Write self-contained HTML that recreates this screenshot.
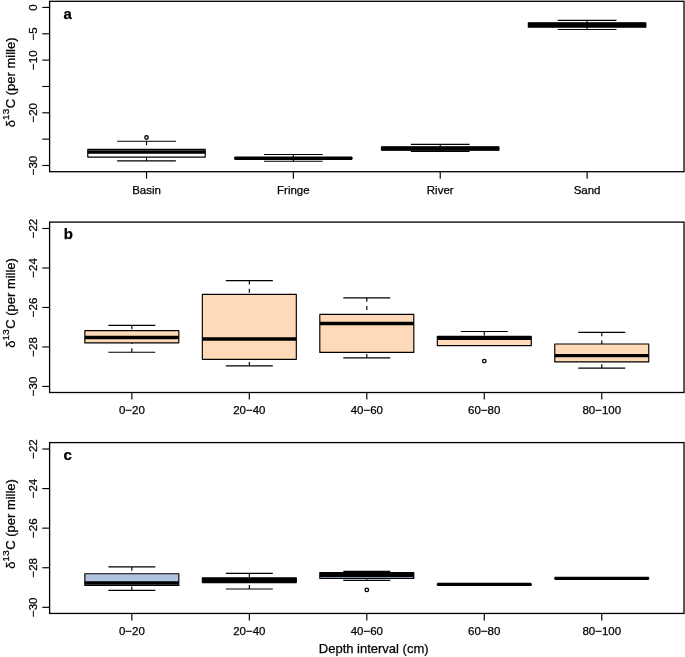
<!DOCTYPE html>
<html><head><meta charset="utf-8">
<style>
html,body{margin:0;padding:0;background:#fff;}
body{width:685px;height:657px;overflow:hidden;}
svg{display:block;}
.tx{filter:grayscale(1);}
text{font-family:"Liberation Sans",sans-serif;fill:#000;stroke:#000;stroke-width:0.25px;}
.t{font-size:11.5px;}
.yl{font-size:13px;}
.xl{font-size:13px;}
.pl{font-size:15px;font-weight:bold;}
</style></head><body>
<svg width="685" height="657" viewBox="0 0 685 657">
<rect x="0" y="0" width="685" height="657" fill="#fff"/>
<rect x="49.6" y="1.3" width="634.4" height="170.39999999999998" fill="none" stroke="#000" stroke-width="1.3"/>
<line x1="42.30" y1="7.45" x2="49.60" y2="7.45" stroke="#000" stroke-width="1.15" />
<line x1="42.30" y1="33.79" x2="49.60" y2="33.79" stroke="#000" stroke-width="1.15" />
<line x1="42.30" y1="60.13" x2="49.60" y2="60.13" stroke="#000" stroke-width="1.15" />
<line x1="42.30" y1="86.47" x2="49.60" y2="86.47" stroke="#000" stroke-width="1.15" />
<line x1="42.30" y1="112.81" x2="49.60" y2="112.81" stroke="#000" stroke-width="1.15" />
<line x1="42.30" y1="139.15" x2="49.60" y2="139.15" stroke="#000" stroke-width="1.15" />
<line x1="42.30" y1="165.49" x2="49.60" y2="165.49" stroke="#000" stroke-width="1.15" />
<line x1="146.52" y1="171.70" x2="146.52" y2="178.70" stroke="#000" stroke-width="1.15" />
<line x1="293.37" y1="171.70" x2="293.37" y2="178.70" stroke="#000" stroke-width="1.15" />
<line x1="440.23" y1="171.70" x2="440.23" y2="178.70" stroke="#000" stroke-width="1.15" />
<line x1="587.08" y1="171.70" x2="587.08" y2="178.70" stroke="#000" stroke-width="1.15" />
<line x1="146.52" y1="141.20" x2="146.52" y2="149.40" stroke="#000" stroke-width="1.15" stroke-dasharray="3.9 4.3"/>
<line x1="117.15" y1="141.20" x2="175.89" y2="141.20" stroke="#000" stroke-width="1.15" />
<line x1="146.52" y1="160.80" x2="146.52" y2="157.10" stroke="#000" stroke-width="1.15" stroke-dasharray="3.9 4.3"/>
<line x1="117.15" y1="160.80" x2="175.89" y2="160.80" stroke="#000" stroke-width="1.15" />
<rect x="87.78" y="149.40" width="117.48" height="7.70" fill="#fff" stroke="#000" stroke-width="1.15" stroke-linejoin="round"/>
<line x1="87.78" y1="152.05" x2="205.26" y2="152.05" stroke="#000" stroke-width="3.45" />
<circle cx="146.52" cy="137.50" r="1.75" fill="none" stroke="#000" stroke-width="1.3"/>
<line x1="293.37" y1="154.50" x2="293.37" y2="157.80" stroke="#000" stroke-width="1.15" />
<line x1="264.00" y1="154.50" x2="322.74" y2="154.50" stroke="#000" stroke-width="1.15" />
<line x1="293.37" y1="161.20" x2="293.37" y2="158.60" stroke="#000" stroke-width="1.15" />
<line x1="264.00" y1="161.20" x2="322.74" y2="161.20" stroke="#000" stroke-width="1.15" />
<rect x="234.63" y="157.80" width="117.48" height="0.80" fill="#000" stroke="#000" stroke-width="1.15" stroke-linejoin="round"/>
<line x1="234.63" y1="158.20" x2="352.11" y2="158.20" stroke="#000" stroke-width="3.45" />
<line x1="440.23" y1="144.30" x2="440.23" y2="146.90" stroke="#000" stroke-width="1.15" />
<line x1="410.86" y1="144.30" x2="469.60" y2="144.30" stroke="#000" stroke-width="1.15" />
<line x1="440.23" y1="151.30" x2="440.23" y2="150.20" stroke="#000" stroke-width="1.15" />
<line x1="410.86" y1="151.30" x2="469.60" y2="151.30" stroke="#000" stroke-width="1.15" />
<rect x="381.49" y="146.90" width="117.48" height="3.30" fill="#000" stroke="#000" stroke-width="1.15" stroke-linejoin="round"/>
<line x1="381.49" y1="148.55" x2="498.97" y2="148.55" stroke="#000" stroke-width="3.45" />
<line x1="587.08" y1="20.40" x2="587.08" y2="22.75" stroke="#000" stroke-width="1.15" />
<line x1="557.71" y1="20.40" x2="616.45" y2="20.40" stroke="#000" stroke-width="1.15" />
<line x1="587.08" y1="29.50" x2="587.08" y2="27.15" stroke="#000" stroke-width="1.15" />
<line x1="557.71" y1="29.50" x2="616.45" y2="29.50" stroke="#000" stroke-width="1.15" />
<rect x="528.34" y="22.75" width="117.48" height="4.40" fill="#000" stroke="#000" stroke-width="1.15" stroke-linejoin="round"/>
<line x1="528.34" y1="24.95" x2="645.82" y2="24.95" stroke="#000" stroke-width="3.45" />
<rect x="49.6" y="222.1" width="634.4" height="170.4" fill="none" stroke="#000" stroke-width="1.3"/>
<line x1="42.30" y1="228.50" x2="49.60" y2="228.50" stroke="#000" stroke-width="1.15" />
<line x1="42.30" y1="267.98" x2="49.60" y2="267.98" stroke="#000" stroke-width="1.15" />
<line x1="42.30" y1="307.46" x2="49.60" y2="307.46" stroke="#000" stroke-width="1.15" />
<line x1="42.30" y1="346.94" x2="49.60" y2="346.94" stroke="#000" stroke-width="1.15" />
<line x1="42.30" y1="386.42" x2="49.60" y2="386.42" stroke="#000" stroke-width="1.15" />
<line x1="131.84" y1="392.50" x2="131.84" y2="399.50" stroke="#000" stroke-width="1.15" />
<line x1="249.32" y1="392.50" x2="249.32" y2="399.50" stroke="#000" stroke-width="1.15" />
<line x1="366.80" y1="392.50" x2="366.80" y2="399.50" stroke="#000" stroke-width="1.15" />
<line x1="484.28" y1="392.50" x2="484.28" y2="399.50" stroke="#000" stroke-width="1.15" />
<line x1="601.76" y1="392.50" x2="601.76" y2="399.50" stroke="#000" stroke-width="1.15" />
<line x1="131.84" y1="325.35" x2="131.84" y2="330.60" stroke="#000" stroke-width="1.15" stroke-dasharray="3.9 4.3"/>
<line x1="108.34" y1="325.35" x2="155.33" y2="325.35" stroke="#000" stroke-width="1.15" />
<line x1="131.84" y1="352.25" x2="131.84" y2="342.85" stroke="#000" stroke-width="1.15" stroke-dasharray="3.9 4.3"/>
<line x1="108.34" y1="352.25" x2="155.33" y2="352.25" stroke="#000" stroke-width="1.15" />
<rect x="84.84" y="330.60" width="93.99" height="12.25" fill="#FFDAB9" stroke="#000" stroke-width="1.15" stroke-linejoin="round"/>
<line x1="84.84" y1="337.50" x2="178.83" y2="337.50" stroke="#000" stroke-width="3.45" />
<line x1="249.32" y1="280.60" x2="249.32" y2="294.30" stroke="#000" stroke-width="1.15" stroke-dasharray="3.9 4.3"/>
<line x1="225.82" y1="280.60" x2="272.81" y2="280.60" stroke="#000" stroke-width="1.15" />
<line x1="249.32" y1="365.90" x2="249.32" y2="359.30" stroke="#000" stroke-width="1.15" stroke-dasharray="3.9 4.3"/>
<line x1="225.82" y1="365.90" x2="272.81" y2="365.90" stroke="#000" stroke-width="1.15" />
<rect x="202.33" y="294.30" width="93.99" height="65.00" fill="#FFDAB9" stroke="#000" stroke-width="1.15" stroke-linejoin="round"/>
<line x1="202.33" y1="338.90" x2="296.31" y2="338.90" stroke="#000" stroke-width="3.45" />
<line x1="366.80" y1="297.85" x2="366.80" y2="314.30" stroke="#000" stroke-width="1.15" stroke-dasharray="3.9 4.3"/>
<line x1="343.30" y1="297.85" x2="390.30" y2="297.85" stroke="#000" stroke-width="1.15" />
<line x1="366.80" y1="357.90" x2="366.80" y2="352.40" stroke="#000" stroke-width="1.15" stroke-dasharray="3.9 4.3"/>
<line x1="343.30" y1="357.90" x2="390.30" y2="357.90" stroke="#000" stroke-width="1.15" />
<rect x="319.81" y="314.30" width="93.99" height="38.10" fill="#FFDAB9" stroke="#000" stroke-width="1.15" stroke-linejoin="round"/>
<line x1="319.81" y1="323.40" x2="413.79" y2="323.40" stroke="#000" stroke-width="3.45" />
<line x1="484.28" y1="331.50" x2="484.28" y2="336.40" stroke="#000" stroke-width="1.15" stroke-dasharray="3.9 4.3"/>
<line x1="460.79" y1="331.50" x2="507.78" y2="331.50" stroke="#000" stroke-width="1.15" />
<rect x="437.29" y="336.40" width="93.99" height="9.20" fill="#FFDAB9" stroke="#000" stroke-width="1.15" stroke-linejoin="round"/>
<line x1="437.29" y1="338.25" x2="531.27" y2="338.25" stroke="#000" stroke-width="3.7" />
<circle cx="484.28" cy="361.05" r="1.75" fill="none" stroke="#000" stroke-width="1.3"/>
<line x1="601.76" y1="332.30" x2="601.76" y2="344.00" stroke="#000" stroke-width="1.15" stroke-dasharray="3.9 4.3"/>
<line x1="578.27" y1="332.30" x2="625.26" y2="332.30" stroke="#000" stroke-width="1.15" />
<line x1="601.76" y1="368.10" x2="601.76" y2="361.90" stroke="#000" stroke-width="1.15" stroke-dasharray="3.9 4.3"/>
<line x1="578.27" y1="368.10" x2="625.26" y2="368.10" stroke="#000" stroke-width="1.15" />
<rect x="554.77" y="344.00" width="93.99" height="17.90" fill="#FFDAB9" stroke="#000" stroke-width="1.15" stroke-linejoin="round"/>
<line x1="554.77" y1="355.60" x2="648.76" y2="355.60" stroke="#000" stroke-width="3.45" />
<rect x="49.6" y="442.6" width="634.4" height="170.85000000000002" fill="none" stroke="#000" stroke-width="1.3"/>
<line x1="42.30" y1="449.00" x2="49.60" y2="449.00" stroke="#000" stroke-width="1.15" />
<line x1="42.30" y1="488.58" x2="49.60" y2="488.58" stroke="#000" stroke-width="1.15" />
<line x1="42.30" y1="528.16" x2="49.60" y2="528.16" stroke="#000" stroke-width="1.15" />
<line x1="42.30" y1="567.74" x2="49.60" y2="567.74" stroke="#000" stroke-width="1.15" />
<line x1="42.30" y1="607.32" x2="49.60" y2="607.32" stroke="#000" stroke-width="1.15" />
<line x1="131.84" y1="613.45" x2="131.84" y2="620.45" stroke="#000" stroke-width="1.15" />
<line x1="249.32" y1="613.45" x2="249.32" y2="620.45" stroke="#000" stroke-width="1.15" />
<line x1="366.80" y1="613.45" x2="366.80" y2="620.45" stroke="#000" stroke-width="1.15" />
<line x1="484.28" y1="613.45" x2="484.28" y2="620.45" stroke="#000" stroke-width="1.15" />
<line x1="601.76" y1="613.45" x2="601.76" y2="620.45" stroke="#000" stroke-width="1.15" />
<line x1="131.84" y1="566.90" x2="131.84" y2="573.70" stroke="#000" stroke-width="1.15" stroke-dasharray="3.9 4.3"/>
<line x1="108.34" y1="566.90" x2="155.33" y2="566.90" stroke="#000" stroke-width="1.15" />
<line x1="131.84" y1="590.30" x2="131.84" y2="585.50" stroke="#000" stroke-width="1.15" stroke-dasharray="3.9 4.3"/>
<line x1="108.34" y1="590.30" x2="155.33" y2="590.30" stroke="#000" stroke-width="1.15" />
<rect x="84.84" y="573.70" width="93.99" height="11.80" fill="#B0C4DE" stroke="#000" stroke-width="1.15" stroke-linejoin="round"/>
<line x1="84.84" y1="582.90" x2="178.83" y2="582.90" stroke="#000" stroke-width="3.45" />
<line x1="249.32" y1="573.30" x2="249.32" y2="577.70" stroke="#000" stroke-width="1.15" stroke-dasharray="3.9 4.3"/>
<line x1="225.82" y1="573.30" x2="272.81" y2="573.30" stroke="#000" stroke-width="1.15" />
<line x1="249.32" y1="589.00" x2="249.32" y2="582.60" stroke="#000" stroke-width="1.15" stroke-dasharray="3.9 4.3"/>
<line x1="225.82" y1="589.00" x2="272.81" y2="589.00" stroke="#000" stroke-width="1.15" />
<rect x="202.33" y="577.70" width="93.99" height="4.90" fill="#B0C4DE" stroke="#000" stroke-width="1.15" stroke-linejoin="round"/>
<line x1="202.33" y1="580.10" x2="296.31" y2="580.10" stroke="#000" stroke-width="4" />
<line x1="366.80" y1="571.30" x2="366.80" y2="572.60" stroke="#000" stroke-width="1.15" stroke-dasharray="3.9 4.3"/>
<line x1="343.30" y1="571.30" x2="390.30" y2="571.30" stroke="#000" stroke-width="1.15" />
<line x1="366.80" y1="580.40" x2="366.80" y2="578.40" stroke="#000" stroke-width="1.15" stroke-dasharray="3.9 4.3"/>
<line x1="343.30" y1="580.40" x2="390.30" y2="580.40" stroke="#000" stroke-width="1.15" />
<rect x="319.81" y="572.60" width="93.99" height="5.80" fill="#B0C4DE" stroke="#000" stroke-width="1.15" stroke-linejoin="round"/>
<line x1="319.81" y1="574.90" x2="413.79" y2="574.90" stroke="#000" stroke-width="4.0" />
<circle cx="366.80" cy="589.90" r="1.75" fill="none" stroke="#000" stroke-width="1.3"/>
<rect x="437.29" y="584.00" width="93.99" height="0.80" fill="#B0C4DE" stroke="#000" stroke-width="1.15" stroke-linejoin="round"/>
<line x1="437.29" y1="584.40" x2="531.27" y2="584.40" stroke="#000" stroke-width="3.2" />
<rect x="554.77" y="577.90" width="93.99" height="0.80" fill="#B0C4DE" stroke="#000" stroke-width="1.15" stroke-linejoin="round"/>
<line x1="554.77" y1="578.30" x2="648.76" y2="578.30" stroke="#000" stroke-width="3.2" />
<g class="tx">
<text transform="translate(37.1,7.45) rotate(-90)" text-anchor="middle" class="t">0</text>
<text transform="translate(37.1,33.79) rotate(-90)" text-anchor="middle" class="t">−5</text>
<text transform="translate(37.1,60.13) rotate(-90)" text-anchor="middle" class="t">−10</text>
<text transform="translate(37.1,112.81) rotate(-90)" text-anchor="middle" class="t">−20</text>
<text transform="translate(37.1,165.49) rotate(-90)" text-anchor="middle" class="t">−30</text>
<text x="146.52" y="193.50" text-anchor="middle" class="t">Basin</text>
<text x="293.37" y="193.50" text-anchor="middle" class="t">Fringe</text>
<text x="440.23" y="193.50" text-anchor="middle" class="t">River</text>
<text x="587.08" y="193.50" text-anchor="middle" class="t">Sand</text>
<text x="63.5" y="18.60" class="pl">a</text>
<text transform="translate(15.2,82.30) rotate(-90)" text-anchor="middle" class="yl">δ<tspan dy="-6.2" font-size="9.8" letter-spacing="0.2">13</tspan><tspan dy="6.2" dx="0.3">C (per mille)</tspan></text>
<text transform="translate(37.1,228.50) rotate(-90)" text-anchor="middle" class="t">−22</text>
<text transform="translate(37.1,267.98) rotate(-90)" text-anchor="middle" class="t">−24</text>
<text transform="translate(37.1,307.46) rotate(-90)" text-anchor="middle" class="t">−26</text>
<text transform="translate(37.1,346.94) rotate(-90)" text-anchor="middle" class="t">−28</text>
<text transform="translate(37.1,386.42) rotate(-90)" text-anchor="middle" class="t">−30</text>
<text x="131.84" y="413.90" text-anchor="middle" class="t">0−20</text>
<text x="249.32" y="413.90" text-anchor="middle" class="t">20−40</text>
<text x="366.80" y="413.90" text-anchor="middle" class="t">40−60</text>
<text x="484.28" y="413.90" text-anchor="middle" class="t">60−80</text>
<text x="601.76" y="413.90" text-anchor="middle" class="t">80−100</text>
<text x="63.7" y="239.05" class="pl">b</text>
<text transform="translate(15.2,302.90) rotate(-90)" text-anchor="middle" class="yl">δ<tspan dy="-6.2" font-size="9.8" letter-spacing="0.2">13</tspan><tspan dy="6.2" dx="0.3">C (per mille)</tspan></text>
<text transform="translate(37.1,449.00) rotate(-90)" text-anchor="middle" class="t">−22</text>
<text transform="translate(37.1,488.58) rotate(-90)" text-anchor="middle" class="t">−24</text>
<text transform="translate(37.1,528.16) rotate(-90)" text-anchor="middle" class="t">−26</text>
<text transform="translate(37.1,567.74) rotate(-90)" text-anchor="middle" class="t">−28</text>
<text transform="translate(37.1,607.32) rotate(-90)" text-anchor="middle" class="t">−30</text>
<text x="131.84" y="634.55" text-anchor="middle" class="t">0−20</text>
<text x="249.32" y="634.55" text-anchor="middle" class="t">20−40</text>
<text x="366.80" y="634.55" text-anchor="middle" class="t">40−60</text>
<text x="484.28" y="634.55" text-anchor="middle" class="t">60−80</text>
<text x="601.76" y="634.55" text-anchor="middle" class="t">80−100</text>
<text x="63.6" y="460.30" class="pl">c</text>
<text transform="translate(15.2,523.90) rotate(-90)" text-anchor="middle" class="yl">δ<tspan dy="-6.2" font-size="9.8" letter-spacing="0.2">13</tspan><tspan dy="6.2" dx="0.3">C (per mille)</tspan></text>
<text x="373.7" y="652.6" text-anchor="middle" class="xl">Depth interval (cm)</text>
</g>
</svg>
</body></html>
